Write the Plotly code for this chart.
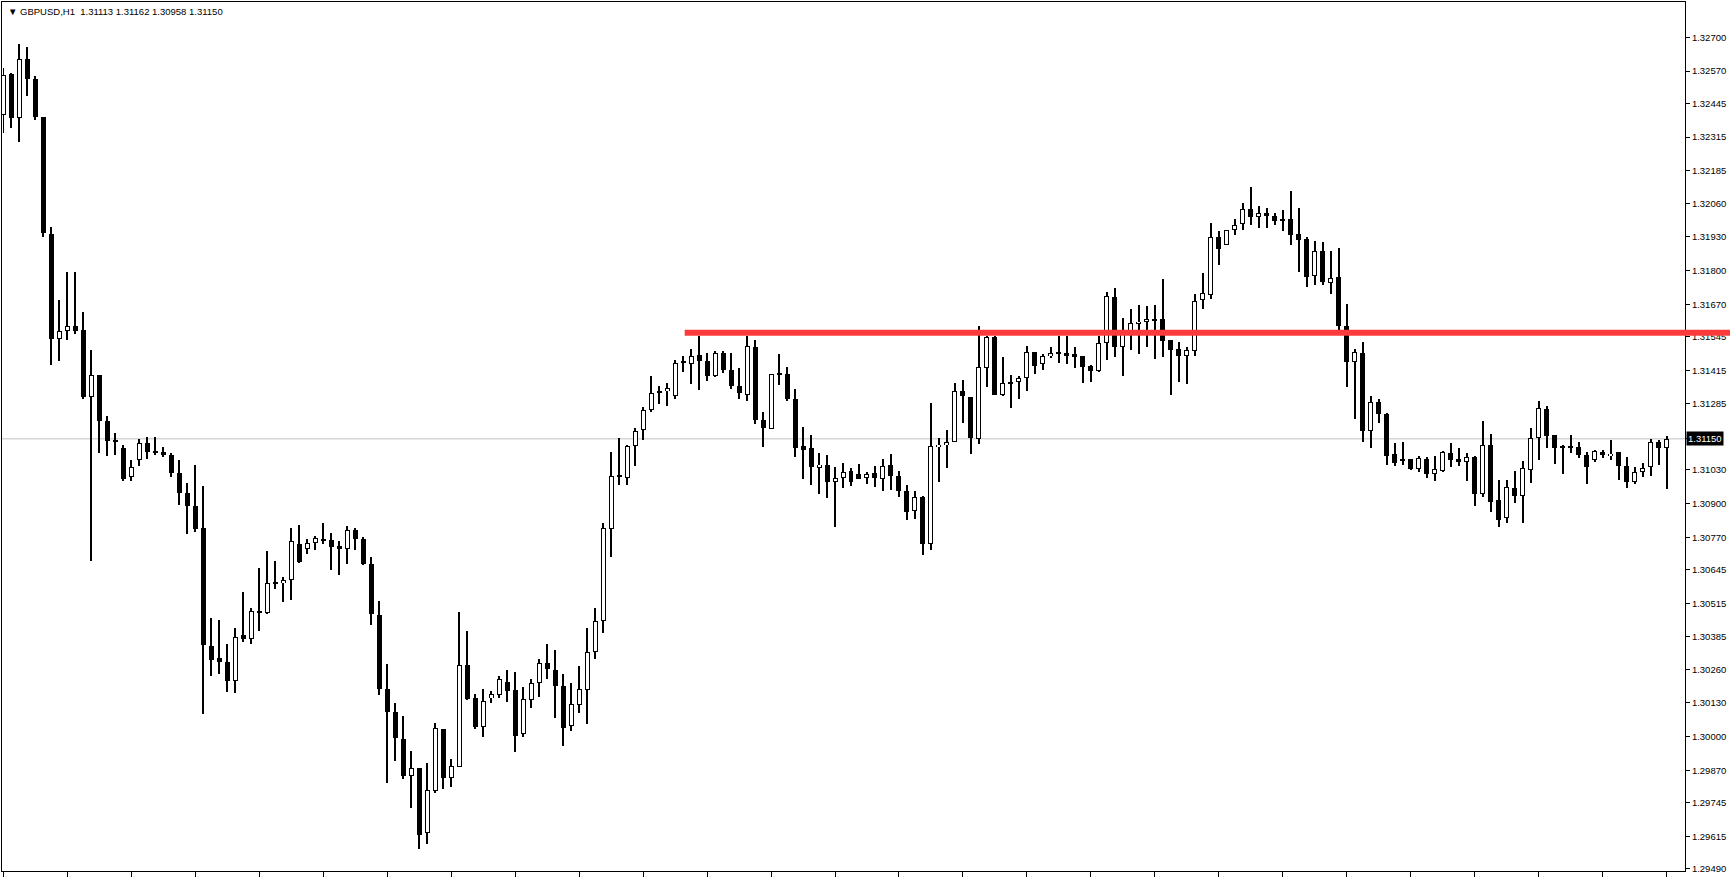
import plotly.graph_objects as go

# ---- data: GBPUSD H1 candles ----
opens = [1.32400,1.32560,1.32390,1.32617,1.32540,1.32392,1.31942,1.31537,1.31565,1.31584,
1.31570,1.31311,1.31396,1.31220,1.31143,1.31113,1.31004,1.31069,1.31135,1.31100,
1.31100,1.31089,1.31018,1.30941,1.30891,1.30806,1.30351,1.30303,1.30290,1.30216,
1.30394,1.30377,1.30487,1.30476,1.30593,1.30593,1.30605,1.30743,1.30724,1.30747,
1.30761,1.30760,1.30735,1.30726,1.30797,1.30764,1.30667,1.30471,1.30185,1.30094,
1.29991,1.29848,1.29877,1.29626,1.29791,1.30029,1.29839,1.29884,1.30278,1.30149,
1.30039,1.30148,1.30160,1.30209,1.30179,1.30012,1.30140,1.30206,1.30286,1.30259,
1.30195,1.30040,1.30121,1.30181,1.30325,1.30447,1.30803,1.31004,1.31000,1.31123,
1.31185,1.31263,1.31327,1.31334,1.31315,1.31444,1.31438,1.31474,1.31450,1.31392,
1.31482,1.31416,1.31355,1.31321,1.31503,1.31223,1.31189,1.31405,1.31400,1.31305,
1.31121,1.31113,1.31039,1.31048,1.30985,1.30997,1.31027,1.31013,1.30997,1.31017,
1.30993,1.31050,1.31008,1.30947,1.30870,1.30927,1.30742,1.31118,1.31126,1.31139,
1.31336,1.31311,1.31150,1.31423,1.31542,1.31321,1.31371,1.31371,1.31384,1.31484,
1.31438,1.31469,1.31484,1.31482,1.31478,1.31469,1.31431,1.31411,1.31520,1.31699,
1.31503,1.31562,1.31594,1.31602,1.31609,1.31611,1.31530,1.31497,1.31471,1.31490,
1.31686,1.31705,1.31930,1.31899,1.31957,1.31981,1.32037,1.32006,1.32022,1.32010,
1.31995,1.31999,1.31941,1.31922,1.31778,1.31876,1.31753,1.31776,1.31584,1.31446,
1.31482,1.31179,1.31292,1.31247,1.31090,1.31069,1.31071,1.31033,1.31071,1.31014,
1.31027,1.31096,1.31071,1.31062,1.31080,1.30937,1.31127,1.30912,1.30843,1.30959,
1.30930,1.31030,1.31154,1.31266,1.31164,1.31116,1.31123,1.31119,1.31089,1.31069,
1.31101,1.31083,1.31098,1.31044,1.30983,1.31022,1.31041,1.31139,1.31113]

highs = [1.32584,1.32562,1.32675,1.32664,1.32553,1.32393,1.31967,1.31685,1.31796,1.31794,
1.31641,1.31493,1.31398,1.31240,1.31174,1.31127,1.31069,1.31150,1.31159,1.31159,
1.31120,1.31096,1.31069,1.30979,1.31049,1.30966,1.30460,1.30451,1.30358,1.30418,
1.30560,1.30498,1.30652,1.30717,1.30679,1.30618,1.30806,1.30816,1.30765,1.30775,
1.30825,1.30785,1.30755,1.30812,1.30806,1.30770,1.30693,1.30524,1.30280,1.30130,
1.30080,1.29946,1.29880,1.29897,1.30053,1.30031,1.29915,1.30483,1.30406,1.30163,
1.30182,1.30178,1.30234,1.30257,1.30249,1.30190,1.30222,1.30299,1.30357,1.30333,
1.30240,1.30207,1.30272,1.30418,1.30495,1.30825,1.31098,1.31155,1.31125,1.31190,
1.31273,1.31393,1.31355,1.31366,1.31455,1.31470,1.31497,1.31548,1.31482,1.31489,
1.31489,1.31482,1.31425,1.31548,1.31533,1.31254,1.31402,1.31478,1.31428,1.31343,
1.31197,1.31163,1.31094,1.31086,1.31040,1.31055,1.31036,1.31051,1.31021,1.31046,
1.31071,1.31090,1.31027,1.30970,1.30947,1.30930,1.31290,1.31154,1.31186,1.31366,
1.31379,1.31313,1.31585,1.31548,1.31548,1.31465,1.31397,1.31394,1.31507,1.31486,
1.31478,1.31503,1.31548,1.31548,1.31503,1.31471,1.31436,1.31548,1.31718,1.31731,
1.31616,1.31653,1.31666,1.31663,1.31666,1.31766,1.31531,1.31523,1.31503,1.31708,
1.31791,1.31985,1.31954,1.31957,1.32000,1.32061,1.32123,1.32050,1.32041,1.32024,
1.32035,1.32108,1.32041,1.31930,1.31915,1.31910,1.31877,1.31887,1.31670,1.31497,
1.31524,1.31315,1.31305,1.31250,1.31132,1.31136,1.31073,1.31083,1.31081,1.31083,
1.31102,1.31132,1.31113,1.31094,1.31082,1.31220,1.31170,1.30990,1.30990,1.31025,
1.31063,1.31190,1.31297,1.31277,1.31166,1.31125,1.31164,1.31139,1.31098,1.31106,
1.31106,1.31147,1.31100,1.31078,1.31040,1.31055,1.31151,1.31145,1.31162]

lows = [1.32331,1.32351,1.32298,1.32474,1.32381,1.31929,1.31437,1.31449,1.31530,1.31554,
1.31302,1.30677,1.31096,1.31085,1.31089,1.30988,1.30988,1.31045,1.31072,1.31089,
1.31081,1.31004,1.30894,1.30783,1.30789,1.30089,1.30234,1.30242,1.30172,1.30168,
1.30365,1.30358,1.30406,1.30473,1.30569,1.30518,1.30527,1.30669,1.30706,1.30722,
1.30742,1.30642,1.30623,1.30667,1.30722,1.30661,1.30431,1.30162,1.29820,1.29907,
1.29837,1.29724,1.29567,1.29586,1.29784,1.29797,1.29805,1.29881,1.30140,1.30029,
1.29997,1.30131,1.30150,1.30134,1.29939,1.29997,1.30112,1.30154,1.30223,1.30073,
1.29965,1.30022,1.30092,1.30047,1.30299,1.30400,1.30695,1.30970,1.30970,1.31045,
1.31145,1.31252,1.31283,1.31275,1.31302,1.31410,1.31360,1.31337,1.31375,1.31390,
1.31404,1.31341,1.31305,1.31298,1.31206,1.31120,1.31187,1.31356,1.31298,1.31078,
1.30995,1.30972,1.30937,1.30921,1.30810,1.30959,1.30968,1.30995,1.30976,1.30963,
1.30947,1.30953,1.30927,1.30838,1.30841,1.30703,1.30722,1.30982,1.31036,1.31137,
1.31213,1.31091,1.31129,1.31352,1.31318,1.31314,1.31271,1.31305,1.31333,1.31402,
1.31417,1.31462,1.31443,1.31439,1.31424,1.31367,1.31371,1.31408,1.31456,1.31467,
1.31391,1.31494,1.31478,1.31506,1.31458,1.31467,1.31318,1.31369,1.31363,1.31471,
1.31651,1.31689,1.31823,1.31899,1.31937,1.31955,1.31977,1.31965,1.31965,1.31974,
1.31954,1.31900,1.31794,1.31736,1.31743,1.31744,1.31708,1.31571,1.31352,1.31225,
1.31136,1.31113,1.31213,1.31049,1.31045,1.31049,1.31030,1.31023,1.31000,1.30987,
1.31020,1.31043,1.31045,1.30987,1.30891,1.30926,1.30867,1.30810,1.30826,1.30902,
1.30825,1.30978,1.31068,1.31113,1.31053,1.31014,1.31094,1.31075,1.30975,1.31062,
1.31075,1.31068,1.30991,1.30960,1.30976,1.31003,1.31007,1.31049,1.30958]

closes = [1.32555,1.32389,1.32617,1.32538,1.32393,1.31943,1.31537,1.31565,1.31584,1.31565,
1.31311,1.31396,1.31220,1.31143,1.31140,1.30995,1.31042,1.31135,1.31100,1.31098,
1.31089,1.31018,1.30941,1.30891,1.30800,1.30354,1.30296,1.30287,1.30216,1.30386,
1.30376,1.30486,1.30477,1.30593,1.30595,1.30605,1.30755,1.30676,1.30747,1.30766,
1.30760,1.30734,1.30726,1.30797,1.30765,1.30667,1.30473,1.30185,1.30094,1.29993,
1.29846,1.29880,1.29620,1.29795,1.30034,1.29839,1.29887,1.30278,1.30146,1.30039,
1.30136,1.30163,1.30221,1.30177,1.30004,1.30144,1.30206,1.30286,1.30262,1.30196,
1.30035,1.30125,1.30183,1.30325,1.30447,1.30805,1.31008,1.31006,1.31123,1.31181,
1.31262,1.31327,1.31334,1.31346,1.31442,1.31446,1.31469,1.31450,1.31392,1.31480,
1.31414,1.31354,1.31327,1.31507,1.31222,1.31192,1.31400,1.31398,1.31302,1.31114,
1.31106,1.31041,1.31050,1.30984,1.30997,1.31023,1.30985,1.30995,1.31016,1.30997,
1.31046,1.31008,1.30949,1.30866,1.30927,1.30745,1.31123,1.31128,1.31136,1.31336,
1.31314,1.31154,1.31427,1.31542,1.31321,1.31365,1.31364,1.31386,1.31484,1.31433,
1.31469,1.31480,1.31482,1.31471,1.31467,1.31429,1.31411,1.31520,1.31703,1.31503,
1.31571,1.31596,1.31603,1.31611,1.31607,1.31529,1.31494,1.31471,1.31492,1.31684,
1.31715,1.31930,1.31884,1.31957,1.31977,1.32037,1.32008,1.32022,1.32009,1.31993,
1.31993,1.31936,1.31917,1.31775,1.31876,1.31755,1.31772,1.31586,1.31448,1.31484,
1.31179,1.31292,1.31247,1.31083,1.31055,1.31067,1.31032,1.31075,1.31014,1.31032,
1.31100,1.31068,1.31060,1.31081,1.30937,1.31127,1.30907,1.30838,1.30963,1.30930,
1.31036,1.31154,1.31269,1.31160,1.31114,1.31123,1.31116,1.31087,1.31043,1.31104,
1.31087,1.31093,1.31044,1.30982,1.31023,1.31039,1.31139,1.31113,1.31150]

price_ticks = [1.32700,1.32570,1.32445,1.32315,1.32185,1.32060,1.31930,1.31800,1.31670,
               1.31545,1.31415,1.31285,1.31150,1.31030,1.30900,1.30770,1.30645,1.30515,
               1.30385,1.30260,1.30130,1.30000,1.29870,1.29745,1.29615,1.29490]
symbol = "GBPUSD,H1"
last_price = 1.31150
resistance_level = 1.31560
resistance_start_bar = 85.2

# ---- layout geometry ----
W, H = 1730, 877
ML, MR, MT, MB = 1, 45, 1, 2
plot_w = W - ML - MR
plot_h = H - MT - MB
x_range = [-0.1875, 210.3125]
y_range = [1.29481, 1.32837]
px_x = (x_range[1] - x_range[0]) / plot_w      # data units per pixel (x)
px_y = (y_range[1] - y_range[0]) / plot_h      # price per pixel (y)

n = len(closes)
idx = list(range(n))

# wicks (as 1px bars so that bodies, drawn later, sit on top of them)
wick_base = [lows[i] for i in idx]
wick_h = [max(highs[i] - lows[i], px_y) for i in idx]

# bodies: black outer box for every candle, white inner fill for bull candles
outer_base, outer_h = [], []
inner_x, inner_base, inner_h = [], [], []
for i in idx:
    o, c = opens[i], closes[i]
    lo, hi = min(o, c), max(o, c)
    if hi - lo < px_y:
        mid = (lo + hi) / 2
        lo, hi = mid - px_y / 2, mid + px_y / 2
    outer_base.append(lo)
    outer_h.append(hi - lo)
    if c > o and (hi - lo) > 2.2 * px_y:
        inner_x.append(i)
        inner_base.append(lo + px_y)
        inner_h.append(hi - lo - 2 * px_y)

fig = go.Figure()
fig.add_trace(go.Bar(x=idx, y=wick_h, base=wick_base, width=1 * px_x,
                     marker=dict(color="#000000", line=dict(width=0)),
                     hoverinfo="skip", showlegend=False))
fig.add_trace(go.Bar(x=idx, y=outer_h, base=outer_base, width=5 * px_x,
                     marker=dict(color="#000000", line=dict(width=0)),
                     hoverinfo="skip", showlegend=False))
fig.add_trace(go.Bar(x=inner_x, y=inner_h, base=inner_base, width=3 * px_x,
                     marker=dict(color="#ffffff", line=dict(width=0)),
                     hoverinfo="skip", showlegend=False))

# current price line
fig.add_shape(type="line", xref="paper", yref="y", x0=0, x1=1,
              y0=last_price, y1=last_price, layer="below",
              line=dict(color="#c0c0c0", width=1))

# resistance line (extends over price scale)
x0p = (resistance_start_bar - x_range[0]) / (x_range[1] - x_range[0])
x1p = (W - ML) / plot_w
fig.add_shape(type="line", xref="paper", yref="y", x0=x0p, x1=x1p,
              y0=resistance_level, y1=resistance_level, layer="above",
              line=dict(color="#fb3b3b", width=6))

# header
fig.add_annotation(xref="paper", yref="paper", x=0, y=1, xanchor="left", yanchor="top",
                   xshift=4, yshift=-2, showarrow=False,
                   text="▼\u00a0" + symbol + "\u00a0\u00a0" + "\u00a0".join(
                       f"{v:.5f}" for v in [opens[-1], highs[-1], lows[-1], closes[-1]]),
                   font=dict(family="Liberation Sans, DejaVu Sans", size=9.5, color="#000000"))

# current price label
fig.add_annotation(xref="paper", yref="y", x=1, y=last_price, xanchor="left", yanchor="middle",
                   xshift=1, showarrow=False, text=f"{last_price:.5f}",
                   bgcolor="#000000", borderpad=1,
                   font=dict(family="Liberation Sans, DejaVu Sans", size=9.5, color="#ffffff"))

fig.update_layout(
    width=W, height=H,
    margin=dict(l=ML, r=MR, t=MT, b=MB, pad=0),
    paper_bgcolor="#ffffff", plot_bgcolor="#ffffff",
    bargap=0, barmode="overlay",
    showlegend=False,
    font=dict(family="Liberation Sans, DejaVu Sans", size=9.5, color="#000000"),
)
fig.update_xaxes(range=x_range, showgrid=False, zeroline=False,
                 showline=True, mirror=True, linecolor="#000000", linewidth=1,
                 ticks="outside", tick0=0, dtick=8, ticklen=5, tickcolor="#000000",
                 showticklabels=False, fixedrange=True)
fig.update_yaxes(range=y_range, side="right", showgrid=False, zeroline=False,
                 showline=True, mirror=True, linecolor="#000000", linewidth=1,
                 ticks="outside", ticklen=4, tickcolor="#000000",
                 tickvals=price_ticks,
                 ticktext=["" if v == last_price else f"{v:.5f}" for v in price_ticks],
                 tickfont=dict(family="Liberation Sans, DejaVu Sans", size=9.5, color="#000000"),
                 fixedrange=True)

fig.write_html("out.html")
